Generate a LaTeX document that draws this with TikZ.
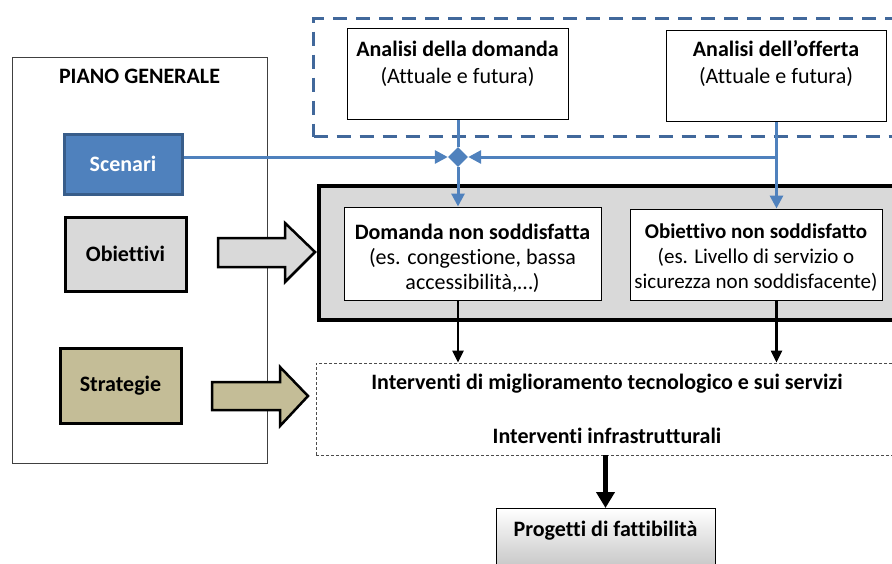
\documentclass[tikz,border=0pt]{standalone}
\usepackage{fontspec}
\setmainfont{Carlito}[Ligatures=NoCommon]
\usepackage{xcolor}
\usepackage{tikz}
\usetikzlibrary{arrows.meta,positioning,shapes.geometric}

\definecolor{conblue}{RGB}{79,129,189}
\definecolor{edgeblue}{RGB}{56,93,138}
\definecolor{dashblue}{RGB}{65,104,155}
\definecolor{boxgray}{RGB}{217,217,217}
\definecolor{tan}{RGB}{196,189,151}

\newcommand{\diafont}{\fontsize{22}{25}\selectfont}

\tikzset{
  box/.style={draw,fill=white,line width=1pt,align=center,inner sep=2pt},
  sidebox/.style={draw,line width=3pt,font=\diafont\bfseries,minimum width=121pt,minimum height=74pt},
  bluecon/.style={draw=conblue,line width=3pt,-{Triangle[length=13pt,width=13pt]}},
  blackcon/.style={line width=2.2pt,-{Triangle[length=12pt,width=11pt]}},
  bigarrow/.style={draw,line width=2.5pt,line join=miter}
}

\begin{document}
\begin{tikzpicture}[x=1pt,y=-1pt,font=\diafont]
  \useasboundingbox (0,0) rectangle (892,563);
  \clip (0,0) rectangle (892,563);

  % piano generale
  \node[draw=black!75,line width=1pt,minimum width=255pt,minimum height=406pt] (piano) at (139.5,260) {};
  \node[below=9pt of piano.north,font=\diafont\bfseries] (pianoT) {PIANO GENERALE};
  \node[sidebox,draw=edgeblue,fill=conblue,text=white,minimum width=118pt,minimum height=60pt] (scen) at (123,164) {Scenari};
  \node[sidebox,fill=boxgray] (obi) at (125.5,254) {Obiettivi};
  \node[sidebox,fill=tan,minimum height=75pt] (strat) at (120.5,385.5) {Strategie};

  \draw[bigarrow,fill=boxgray] (218,238) -- (285,238) -- (285,223) -- (315,252)
    -- (285,282) -- (285,267) -- (218,267) -- cycle;
  \draw[bigarrow,fill=tan] (212,382) -- (280,382) -- (280,367) -- (308,396)
    -- (280,426) -- (280,410) -- (212,410) -- cycle;

  % analisi
  \node[draw=dashblue,line width=3pt,dash pattern=on 14pt off 9pt,anchor=north west,
    minimum width=590pt,minimum height=118pt] (analisi) at (312,17) {};
  \node[box,anchor=north west,minimum width=221pt,minimum height=91pt] (anDom) at (347,28) {};
  \node[align=center] (anDomT) at (457.5,64) {\textbf{Analisi della domanda}\\[2pt](Attuale e futura)};
  \node[box,anchor=north west,minimum width=220pt,minimum height=91pt] (anOff) at (666,30) {};
  \node[align=center] (anOffT) at (776,64) {\textbf{Analisi dell’offerta}\\[2pt](Attuale e futura)};

  % problemi
  \node[draw,fill=boxgray,line width=4pt,anchor=north west,minimum width=590pt,minimum height=134pt] (probl) at (317,184) {};
  \node[box,minimum width=257pt,minimum height=93pt] (domNS) at (472.5,253.5) {};
  \node[align=center] (domNST) at (472.5,258)
    {\textbf{Domanda non soddisfatta}\\(es. congestione, bassa\\accessibilità,…)};
  \node[box,minimum width=252pt,minimum height=91pt] (obNS) at (756,254.5) {};
  \node[align=center,font=\fontsize{21}{25}\selectfont] (obNST) at (756,258)
    {\textbf{Obiettivo non soddisfatto}\\(es. Livello di servizio o\\sicurezza non soddisfacente)};

  \node[diamond,fill=conblue,inner sep=0pt,minimum size=20pt] (nodo) at (458,157) {};

  % interventi
  \node[draw=black!70,line width=0.8pt,dash pattern=on 3pt off 2pt,minimum width=582pt,minimum height=92pt,
    align=center,font=\diafont\bfseries] (interv) at (607,409)
    {Interventi di miglioramento tecnologico e sui servizi\\[29pt]Interventi infrastrutturali};
  \node[draw,line width=1pt,top color=white,bottom color=black!30,anchor=north,
    minimum width=219pt,minimum height=80pt] (prog) at (605.5,508) {};
  \node[font=\diafont\bfseries] (progT) at (605.5,531) {Progetti di fattibilità};

  % connettori
  \draw[draw=conblue,line width=3pt] (anDom.south -| nodo) -- (nodo.north);
  \draw[bluecon] (nodo.west -| scen.east) -- (nodo.west);
  \draw[bluecon] (anOff.south |- nodo) -- (nodo.east);
  \draw[bluecon] (nodo.south) -- (nodo |- domNS.north);
  \draw[bluecon] (anOff.south) -- (anOff.south |- obNS.north);
  \draw[blackcon] (nodo |- domNS.south) -- (nodo |- interv.north);
  \draw[blackcon] (anOff |- obNS.south) -- (anOff |- interv.north);
  \draw[line width=5pt,-{Triangle[length=16pt,width=18pt]}] (interv.south -| prog) -- (prog.north);
\end{tikzpicture}
\end{document}
